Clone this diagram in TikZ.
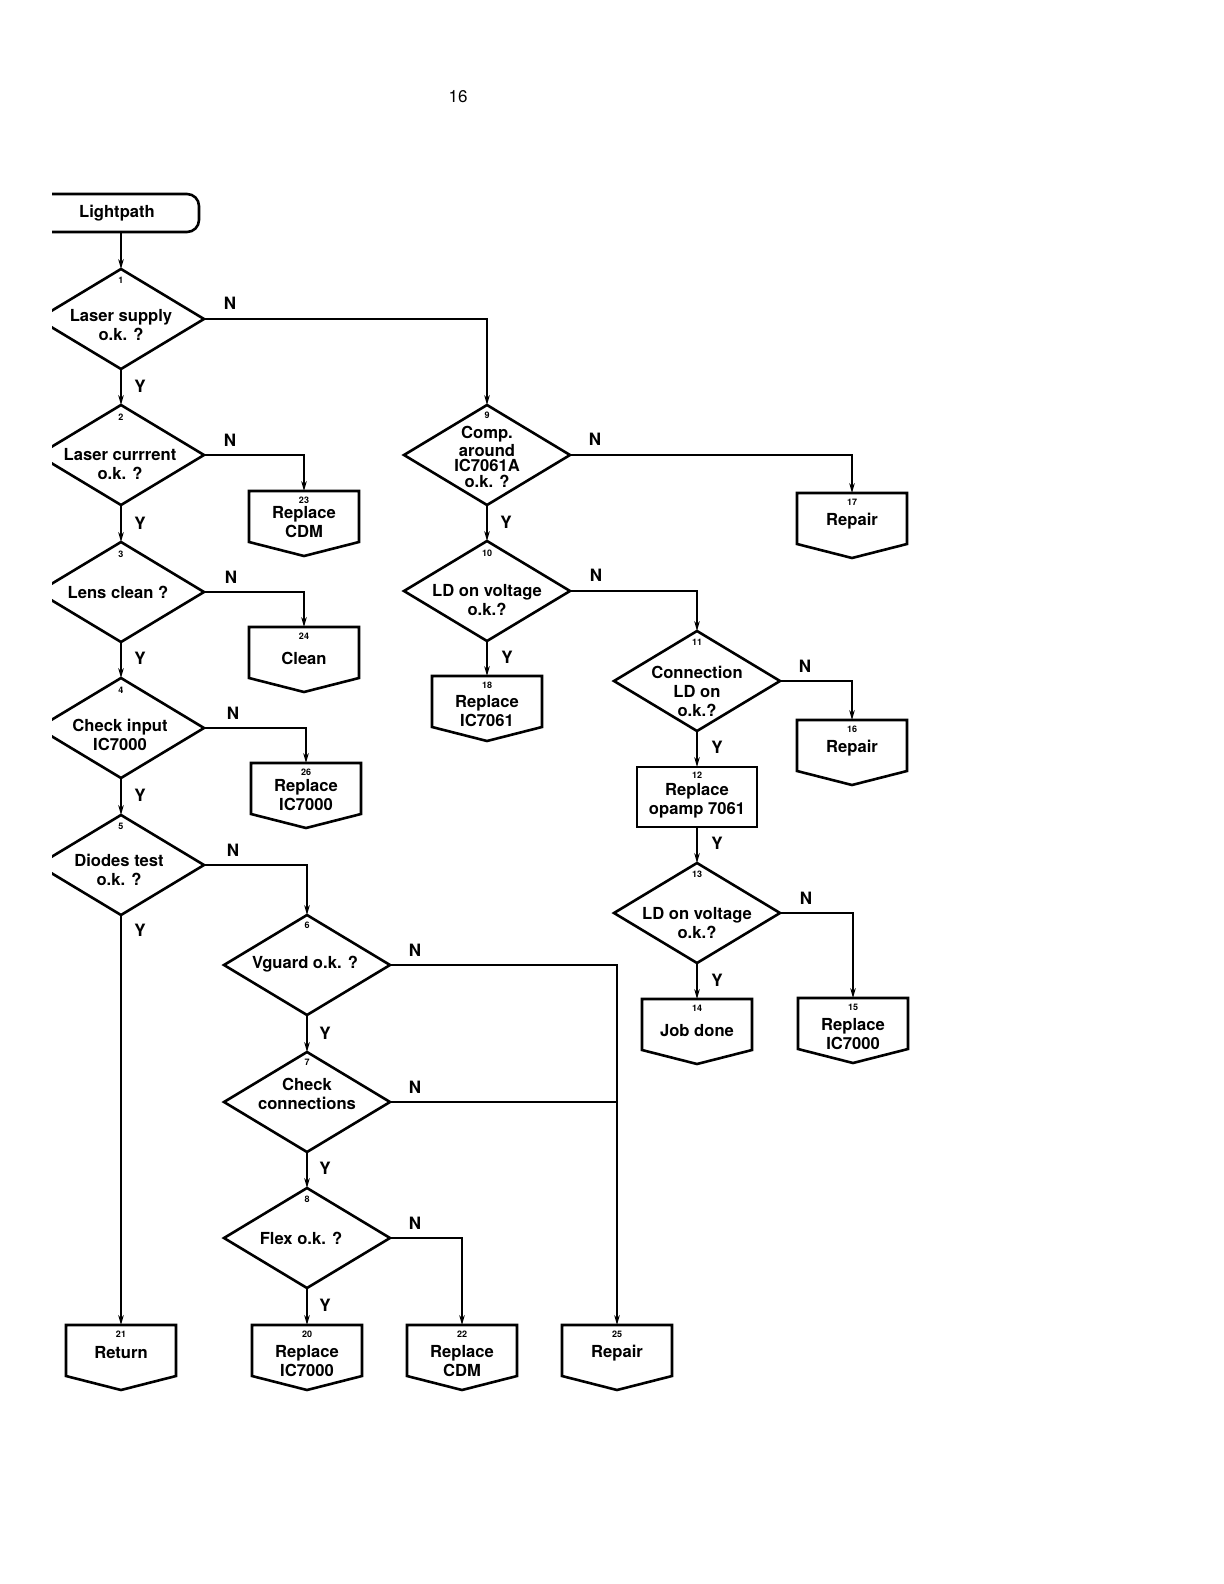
\documentclass[tikz,border=0pt]{standalone}
\usepackage{fontspec}
\setmainfont{TeX Gyre Heros}
\usetikzlibrary{shapes.geometric,arrows.meta,calc}

\tikzset{
  shp/.style={draw, line width=1.3pt, line join=miter},
  dia/.style={shp, diamond, minimum width=83pt, minimum height=50pt, inner sep=0pt, outer sep=0pt},
  txt/.style={font=\fontsize{8.3}{9.5}\selectfont\bfseries, align=center, inner sep=0pt},
  tighttxt/.style={font=\fontsize{8.3}{7.8}\selectfont\bfseries, align=center, inner sep=0pt},
  num/.style={font=\fontsize{4.5}{5}\selectfont\bfseries, inner sep=0pt},
  yn/.style={font=\fontsize{8.5}{10}\selectfont\bfseries, inner sep=0pt},
  arr/.style={line width=0.6pt, -{Stealth[length=5pt,width=2.8pt]}},
  ln/.style={line width=0.6pt},
  obox/.style={minimum width=55pt, minimum height=25.5pt, inner sep=0pt, outer sep=0pt},
  rbox/.style={shp, minimum width=60pt, minimum height=30pt, inner sep=0pt, outer sep=0pt},
}

% name, x, ytop, text, number, text offset
\newcommand\offpg[6]{%
  \node[obox] (#1) at (#2,#3+25.5) {};
  \draw[shp] (#1.north west) -- (#1.north east) -- (#1.south east) -- ([yshift=-7pt]#1.south) -- (#1.south west) -- cycle;
  \node[num] (#1num) at (#2,#3+9) {#5};
  \node[txt] (#1txt) at (#2,#3+#6) {#4};
}

\begin{document}
\begin{tikzpicture}[x=0.5pt,y=-0.5pt]
\useasboundingbox (0,0) rectangle (1224,1584);
\node[font=\fontsize{8.5}{10}\selectfont, inner sep=0pt] (page) at (458,97) {16};

\begin{scope}
\clip (52,0) rectangle (1224,1584);

% start terminal
\node[shp, rounded corners=6pt, minimum width=82pt, minimum height=19pt, inner sep=0pt, outer sep=0pt,
      font=\fontsize{8.3}{9.5}\selectfont\bfseries] (start) at (117,213) {Lightpath};

% left column diamonds
\node[dia] (d1) at (121,319) {};
\node[num] (n1) at (121,280) {1};
\node[txt] (t1) at (121,325) {Laser supply\\o.k. ?};

\node[dia] (d2) at (121,455) {};
\node[num] (n2) at (121,417) {2};
\node[txt] (t2) at (120,464) {Laser currrent\\o.k. ?};

\node[dia] (d3) at (121,592) {};
\node[num] (n3) at (121,554) {3};
\node[txt] (t3) at (118,592) {Lens clean ?};

\node[dia] (d4) at (121,728) {};
\node[num] (n4) at (121,690) {4};
\node[txt] (t4) at (120,735) {Check input\\IC7000};

\node[dia] (d5) at (121,865) {};
\node[num] (n5) at (121,826) {5};
\node[txt] (t5) at (119,870) {Diodes test\\o.k. ?};

% middle column diamonds
\node[dia] (d6) at (307,965) {};
\node[num] (n6) at (307,925) {6};
\node[txt] (t6) at (305,964) {Vguard o.k. ?};

\node[dia] (d7) at (307,1102) {};
\node[num] (n7) at (307,1062) {7};
\node[txt] (t7) at (307,1094) {Check\\connections};

\node[dia] (d8) at (307,1238) {};
\node[num] (n8) at (307,1199) {8};
\node[txt] (t8) at (301,1238) {Flex o.k. ?};

% right column diamonds
\node[dia] (d9) at (487,455) {};
\node[num] (n9) at (487,415) {9};
\node[tighttxt] (t9) at (487,457) {Comp.\\around\\IC7061A\\o.k. ?};

\node[dia] (d10) at (487,591) {};
\node[num] (n10) at (487,553) {10};
\node[txt] (t10) at (487,600) {LD on voltage\\o.k.?};

\node[dia] (d11) at (697,681) {};
\node[num] (n11) at (697,642) {11};
\node[txt] (t11) at (697,691) {Connection\\LD on\\o.k.?};

\node[rbox] (b12) at (697,797) {};
\node[num] (n12) at (697,775) {12};
\node[txt] (t12) at (697,801) {Replace\\opamp 7061};

\node[dia] (d13) at (697,913) {};
\node[num] (n13) at (697,874) {13};
\node[txt] (t13) at (697,923) {LD on voltage\\o.k.?};

% off-page connector boxes
\offpg{b23}{304}{491}{Replace\\CDM}{23}{31}
\offpg{b24}{304}{627}{Clean}{24}{31}
\offpg{b26}{306}{763}{Replace\\IC7000}{26}{32}
\offpg{b17}{852}{493}{Repair}{17}{28}
\offpg{b18}{487}{676}{Replace\\IC7061}{18}{35}
\offpg{b16}{852}{720}{Repair}{16}{28}
\offpg{b14}{697}{999}{Job done}{14}{32}
\offpg{b15}{853}{998}{Replace\\IC7000}{15}{36}
\offpg{ret}{121}{1325}{Return}{21}{28}
\offpg{b20}{307}{1325}{Replace\\IC7000}{20}{36}
\offpg{b22}{462}{1325}{Replace\\CDM}{22}{36}
\offpg{b25}{617}{1325}{Repair}{25}{28}

% connectors
\draw[arr] (d1.north |- start.south) -- (d1.north);
\draw[arr] (d1.east) -| (d9.north);
\draw[arr] (d1.south) -- (d2.north);
\draw[arr] (d2.east) -| (b23.north);
\draw[arr] (d2.south) -- (d3.north);
\draw[arr] (d3.east) -| (b24.north);
\draw[arr] (d3.south) -- (d4.north);
\draw[arr] (d4.east) -| (b26.north);
\draw[arr] (d4.south) -- (d5.north);
\draw[arr] (d5.east) -| (d6.north);
\draw[arr] (d5.south) -- (ret.north);
\draw[arr] (d6.east) -| (b25.north);
\coordinate (j7) at (d7.east -| b25.north);
\draw[ln] (d7.east) -- (j7);
\draw[arr] (d6.south) -- (d7.north);
\draw[arr] (d7.south) -- (d8.north);
\draw[arr] (d8.south) -- (b20.north);
\draw[arr] (d8.east) -| (b22.north);
\draw[arr] (d9.east) -| (b17.north);
\draw[arr] (d9.south) -- (d10.north);
\draw[arr] (d10.south) -- (b18.north);
\draw[arr] (d10.east) -| (d11.north);
\draw[arr] (d11.east) -| (b16.north);
\draw[arr] (d11.south) -- (b12.north);
\draw[arr] (b12.south) -- (d13.north);
\draw[arr] (d13.south) -- (b14.north);
\draw[arr] (d13.east) -| (b15.north);

% Y / N labels
\node[yn] (ny1) at (230,303) {N};
\node[yn] (yy1) at (140,386) {Y};
\node[yn] (ny2) at (230,440) {N};
\node[yn] (yy2) at (140,523) {Y};
\node[yn] (ny3) at (231,577) {N};
\node[yn] (yy3) at (140,658) {Y};
\node[yn] (ny4) at (233,713) {N};
\node[yn] (yy4) at (140,795) {Y};
\node[yn] (ny5) at (233,850) {N};
\node[yn] (yy5) at (140,930) {Y};
\node[yn] (ny6) at (415,950) {N};
\node[yn] (yy6) at (325,1033) {Y};
\node[yn] (ny7) at (415,1087) {N};
\node[yn] (yy7) at (325,1168) {Y};
\node[yn] (ny8) at (415,1223) {N};
\node[yn] (yy8) at (325,1305) {Y};
\node[yn] (ny9) at (595,439) {N};
\node[yn] (yy9) at (506,522) {Y};
\node[yn] (ny10) at (596,575) {N};
\node[yn] (yy10) at (507,657) {Y};
\node[yn] (ny11) at (805,666) {N};
\node[yn] (yy11) at (717,747) {Y};
\node[yn] (yy12) at (717,843) {Y};
\node[yn] (ny13) at (806,898) {N};
\node[yn] (yy13) at (717,980) {Y};
\end{scope}
\end{tikzpicture}
\end{document}
